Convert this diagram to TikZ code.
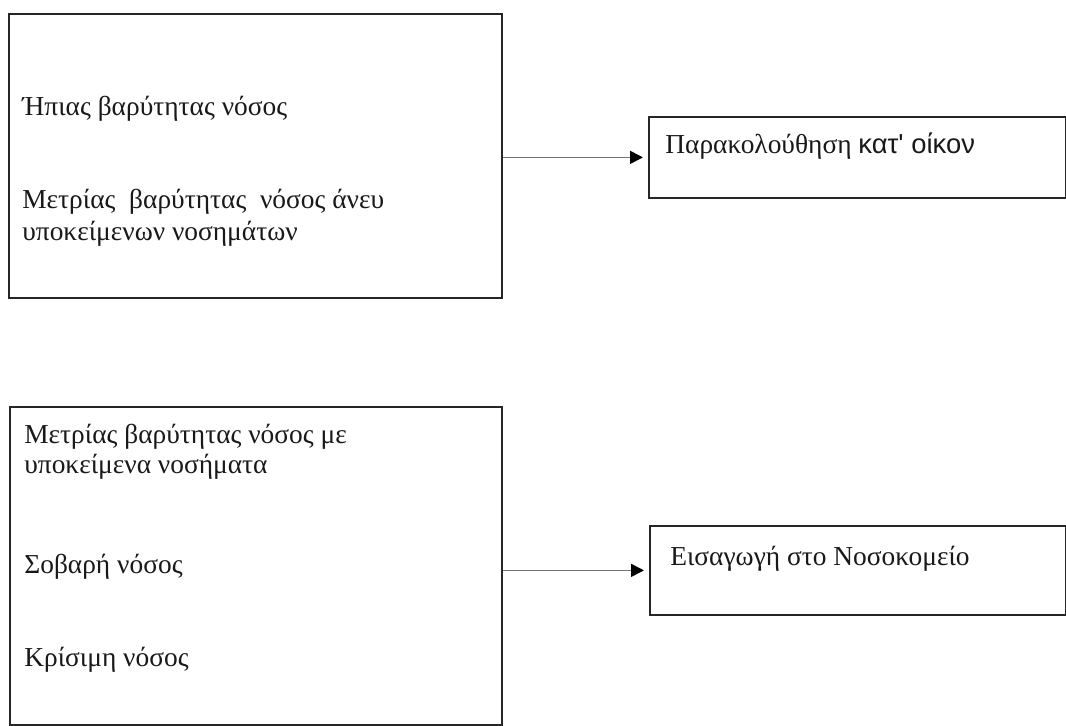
\documentclass[tikz,border=0pt]{standalone}
\usepackage{fontspec}
\setmainfont{Liberation Serif}
\newfontfamily\grsans{Liberation Sans}
\usetikzlibrary{arrows.meta, positioning}
\tikzset{
  panel/.style={rectangle, draw=black!85, line width=1pt, anchor=north west, inner sep=0pt},
  txt/.style={anchor=base west, inner sep=0pt, font=\fontsize{15.6}{18.5}\selectfont, text=black!90},
  arrow/.style={-{Triangle[length=2.6mm, width=2.6mm, color=black]}, line width=0.9pt, draw=black!55, shorten >=1mm},
}

\begin{document}
\begin{tikzpicture}[x=0.02cm, y=-0.02cm]
\useasboundingbox (0,0) rectangle (1066,725);
% boxes
\node[panel, minimum width=9.86cm, minimum height=5.68cm] (mild) at (8,13) {};
\node[panel, minimum width=8.34cm, minimum height=1.62cm] (home) at (648,116) {};
\node[panel, minimum width=9.84cm, minimum height=6.36cm] (severe) at (9,406) {};
\node[panel, minimum width=8.32cm, minimum height=1.78cm] (hosp) at (649,525) {};
% texts
\node[txt] (m1) at (22,115) {Ήπιας βαρύτητας νόσος};
\node[txt] (m2) at (22,208) {Μετρίας\ \ βαρύτητας\ \ νόσος άνευ};
\node[txt] (m3) at (22,240) {υποκείμενων νοσημάτων};
\node[txt] (h1) at (665,153) {Παρακολούθηση {\grsans κατ' οίκον}};
\node[txt] (s1) at (24,443) {Μετρίας βαρύτητας νόσος με};
\node[txt] (s2) at (24,473) {υποκείμενα νοσήματα};
\node[txt] (s3) at (24,573) {Σοβαρή νόσος};
\node[txt] (s4) at (24,666) {Κρίσιμη νόσος};
\node[txt] (p1) at (670,565) {Εισαγωγή στο Νοσοκομείο};
% connectors
\draw[arrow] (mild.east |- home.west) -- (home.west);
\draw[arrow] (severe.east |- hosp.west) -- (hosp.west);
\end{tikzpicture}
\end{document}
